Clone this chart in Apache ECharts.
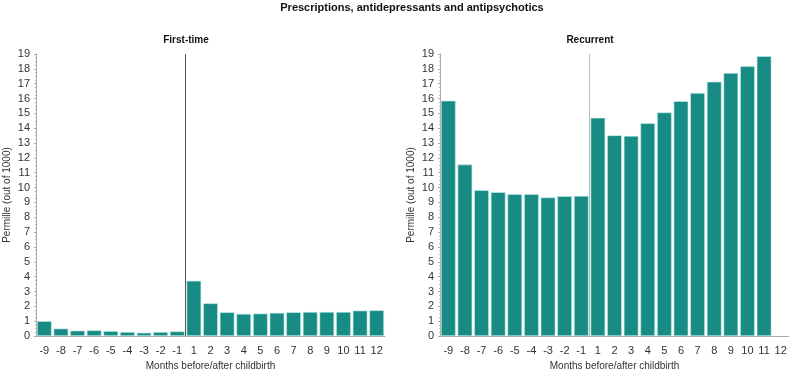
<!DOCTYPE html>
<html>
<head>
<meta charset="utf-8">
<script src="https://cdn.jsdelivr.net/npm/echarts@6/dist/echarts.min.js"></script>
<style>
  html, body { margin: 0; padding: 0; background: #fff; }
  #chart { width: 789px; height: 373px; }
</style>
</head>
<body>
<div id="chart"></div>
<script>
// months before / after childbirth
var months = ['-9', '-8', '-7', '-6', '-5', '-4', '-3', '-2', '-1',
              '1', '2', '3', '4', '5', '6', '7', '8', '9', '10', '11', '12'];

// permille
var firstTime = [1.0, 0.5, 0.36, 0.38, 0.33, 0.27, 0.22, 0.27, 0.31,
                 3.72, 2.2, 1.6, 1.49, 1.51, 1.56, 1.6, 1.62, 1.62, 1.62, 1.71, 1.73];
var recurrent = [15.85, 11.55, 9.83, 9.69, 9.56, 9.56, 9.33, 9.42, 9.44,
                 14.7, 13.52, 13.48, 14.33, 15.06, 15.82, 16.37, 17.13, 17.72, 18.17, 18.85, null];

var yTicks = { min: 0, max: 19, interval: 1 };
var birthIndex = 9; // childbirth falls between '-1' and '1'

var txt = '#333';
var font = '"Liberation Sans", Arial, sans-serif';
var barColor = '#178b84';

function xAxisFor(idx) {
    return {
        type: 'category',
        gridIndex: idx,
        data: months,
        name: 'Months before/after childbirth',
        nameLocation: 'middle',
        nameGap: 25,
        nameTextStyle: { color: txt, fontSize: 10, fontFamily: font },
        axisLine: { lineStyle: { color: '#aaa' } },
        axisTick: { alignWithLabel: true, length: 3, lineStyle: { color: '#999' } },
        axisLabel: { color: txt, fontSize: 11, fontFamily: font, margin: 9, interval: 0 },
        splitLine: { show: false }
    };
}

// hidden helper axis, used only to place the childbirth line between categories
function helperAxis(idx) {
    return {
        type: 'value',
        gridIndex: idx,
        min: 0,
        max: months.length,
        show: false
    };
}

function yAxisFor(idx) {
    return {
        type: 'value',
        gridIndex: idx,
        min: yTicks.min,
        max: yTicks.max,
        interval: yTicks.interval,
        name: 'Permille (out of 1000)',
        nameLocation: 'middle',
        nameGap: 24,
        nameTextStyle: { color: txt, fontSize: 10, fontFamily: font },
        axisLine: { show: true, lineStyle: { color: '#aaa' } },
        axisTick: { show: true, length: 2, lineStyle: { color: '#aaa' } },
        minorTick: { show: true, splitNumber: 4, length: 1, lineStyle: { color: '#bbb' } },
        axisLabel: { color: txt, fontSize: 11, fontFamily: font, margin: 6 },
        splitLine: { show: false }
    };
}

function barSeries(idx, data) {
    return {
        type: 'bar',
        xAxisIndex: idx,
        yAxisIndex: idx,
        data: data,
        barCategoryGap: '12%',
        itemStyle: { color: barColor, borderColor: '#bfeeea', borderWidth: 0.6 },
        silent: true
    };
}

function birthLine(idx, color) {
    return {
        type: 'line',
        xAxisIndex: idx + 2,
        yAxisIndex: idx,
        data: [],
        silent: true,
        markLine: {
            silent: true,
            symbol: ['none', 'none'],
            label: { show: false },
            lineStyle: { color: color, width: 1, type: 'solid' },
            data: [{ xAxis: birthIndex }]
        }
    };
}

var myChart = echarts.init(document.getElementById('chart'));

var option = {
    backgroundColor: '#fff',
    animation: false,
    title: [
        { text: 'Prescriptions, antidepressants and antipsychotics', left: 412, top: 2, padding: 0, textAlign: 'center',
          textStyle: { fontSize: 11, fontWeight: 'bold', color: '#111', fontFamily: font } },
        { text: 'First-time', left: 186, top: 35, padding: 0, textAlign: 'center',
          textStyle: { fontSize: 10, fontWeight: 'bold', color: '#111', fontFamily: font } },
        { text: 'Recurrent', left: 590, top: 35, padding: 0, textAlign: 'center',
          textStyle: { fontSize: 10, fontWeight: 'bold', color: '#111', fontFamily: font } }
    ],
    grid: [
        { left: 36, right: 404, top: 54, bottom: 37, outerBoundsMode: 'none', containLabel: false },
        { left: 440, right: 0, top: 54, bottom: 37, outerBoundsMode: 'none', containLabel: false }
    ],
    xAxis: [xAxisFor(0), xAxisFor(1), helperAxis(0), helperAxis(1)],
    yAxis: [yAxisFor(0), yAxisFor(1)],
    series: [
        barSeries(0, firstTime),
        barSeries(1, recurrent),
        birthLine(0, '#555'),
        birthLine(1, '#bbb')
    ]
};

myChart.setOption(option);
</script>
</body>
</html>
